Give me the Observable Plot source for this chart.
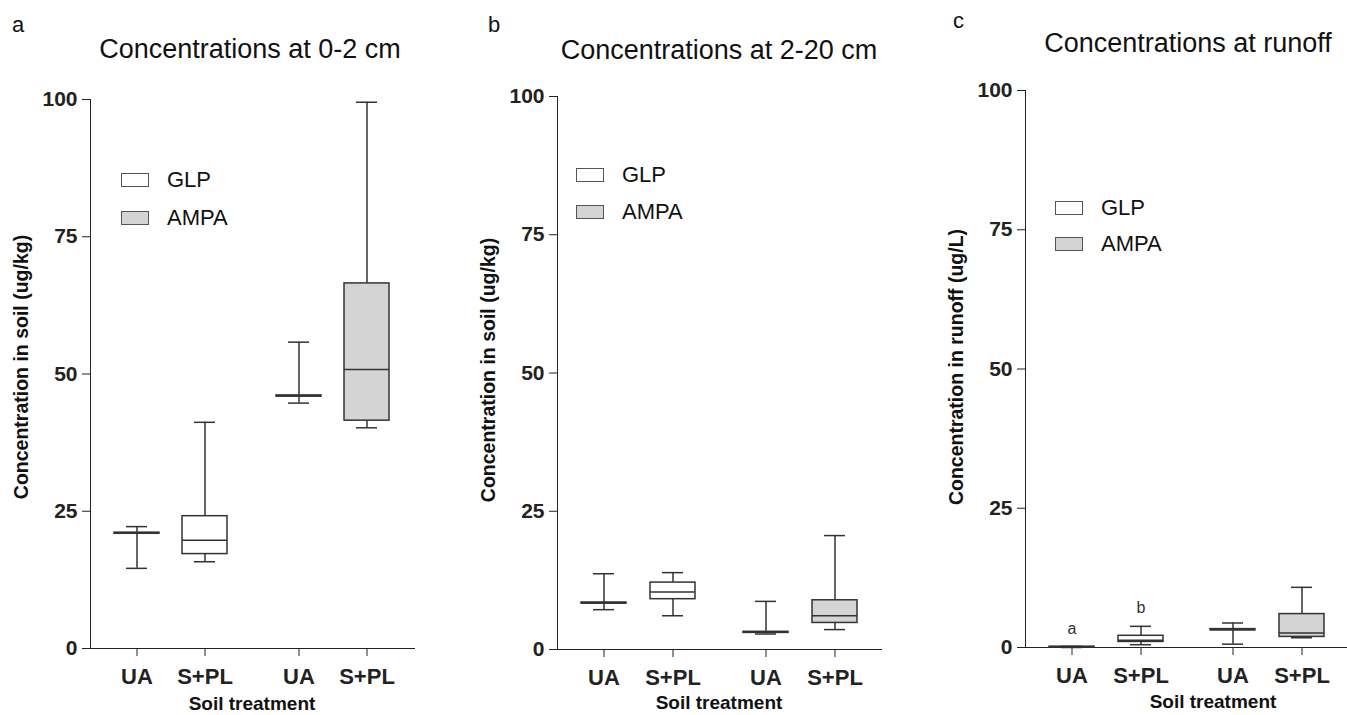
<!DOCTYPE html>
<html>
<head>
<meta charset="utf-8">
<script src="https://cdn.jsdelivr.net/npm/d3@7"></script>
<script src="https://cdn.jsdelivr.net/npm/@observablehq/plot@0.6"></script>
<style>
  body { margin: 0; background: #fff; font-family: Arial, "Liberation Sans", sans-serif; }
  #fig { position: relative; width: 1347px; height: 715px; overflow: hidden; background: #fff; }
  .panel { position: absolute; top: 0; height: 715px; }
  .abs { position: absolute; white-space: nowrap; color: #111; line-height: 1; }
  .title { font-size: 27px; transform: translateX(-50%); }
  .letter { font-size: 22px; }
  .ylab { font-size: 19.5px; font-weight: bold; transform: translate(-50%, -50%) rotate(-90deg); }
  .xlab { font-size: 19px; font-weight: bold; transform: translate(-50%, -50%); }
  .leg { position: absolute; display: flex; align-items: center; font-size: 22px; color: #111; line-height: 1; white-space: nowrap; }
  .sw { width: 26px; height: 12px; border: 1.5px solid #555; margin-right: 18px; box-sizing: content-box; }
  svg g[aria-label="x-axis tick label"] { font-size: 22px; }
  svg g[aria-label="y-axis tick label"] { font-size: 21px; }
</style>
</head>
<body>
<div id="fig"></div>
<script>
// ---------- data ----------
const compounds = ["GLP", "AMPA"];
const treatments = ["UA", "S+PL"];
const yTicks = [0, 25, 50, 75, 100];

// order of values: GLP-UA, GLP-S+PL, AMPA-UA, AMPA-S+PL
// panel a: 0-2 cm (ug/kg)
const a_min = [14.6, 15.8, 44.7, 40.2];
const a_q1  = [20.9, 17.2, 45.9, 41.5];
const a_med = [21.0, 19.7, 46.0, 50.8];
const a_q3  = [21.1, 24.1, 46.1, 66.5];
const a_max = [22.2, 41.2, 55.8, 99.5];

// panel b: 2-20 cm (ug/kg)
const b_min = [7.2, 6.1, 2.8, 3.6];
const b_q1  = [8.3, 9.1, 3.0, 4.8];
const b_med = [8.4, 10.4, 3.1, 6.1];
const b_q3  = [8.5, 12.1, 3.2, 8.9];
const b_max = [13.7, 13.9, 8.7, 20.6];

// panel c: runoff (ug/L)
const c_min = [0.0, 0.5, 0.6, 1.75];
const c_q1  = [0.05, 1.0, 3.1, 1.9];
const c_med = [0.1, 1.3, 3.2, 2.6];
const c_q3  = [0.15, 2.1, 3.3, 6.0];
const c_max = [0.2, 3.8, 4.4, 10.8];
const c_letters = ["a", "b", "", ""];

const titles = ["Concentrations at 0-2 cm", "Concentrations at 2-20 cm", "Concentrations at runoff"];
const panelLetters = ["a", "b", "c"];
const yLabels = ["Concentration in soil (ug/kg)", "Concentration in soil (ug/kg)", "Concentration in runoff (ug/L)"];
const xLabel = "Soil treatment";

// ---------- build ----------
function rows(mn, q1, md, q3, mx, lab) {
  return mn.map((_, i) => ({
    compound: compounds[Math.floor(i / 2)],
    treatment: treatments[i % 2],
    min: mn[i], q1: q1[i], med: md[i], q3: q3[i], max: mx[i],
    lab: lab ? lab[i] : ""
  }));
}

const STROKE = "#333";

function panelPlot({data, width, mL, mR, mT, mB, pi, po}) {
  const common = {fx: "compound", x: "treatment"};
  return Plot.plot({
    width, height: 715,
    marginLeft: mL, marginRight: mR, marginTop: mT, marginBottom: mB,
    style: {fontFamily: "Arial, 'Liberation Sans', sans-serif", fontSize: "21px", fontWeight: "bold", color: "#222", background: "transparent", overflow: "visible"},
    fx: {domain: compounds, padding: 0, axis: null, label: null},
    x: {domain: treatments, paddingInner: pi, paddingOuter: po, label: null, tickSize: 8, tickPadding: 12, line: true},
    y: {domain: [0, 100], ticks: yTicks, tickSize: 8, tickPadding: 5, label: null, line: true},
    color: {domain: compounds, range: ["#ffffff", "#d4d4d4"]},
    marks: [
      Plot.ruleX(data, {...common, y1: "q3", y2: "max", stroke: STROKE, strokeWidth: 1.5}),
      Plot.ruleX(data, {...common, y1: "min", y2: "q1", stroke: STROKE, strokeWidth: 1.5}),
      Plot.tickY(data, {...common, y: "max", insetLeft: 12, insetRight: 12, stroke: STROKE, strokeWidth: 1.5}),
      Plot.tickY(data, {...common, y: "min", insetLeft: 12, insetRight: 12, stroke: STROKE, strokeWidth: 1.5}),
      Plot.barY(data, {...common, y1: "q1", y2: "q3", fill: "compound", stroke: STROKE, strokeWidth: 1.5}),
      Plot.tickY(data, {...common, y: "med", stroke: STROKE, strokeWidth: 1.5}),
      Plot.text(data, {...common, y: "max", text: "lab", dy: -18, fontSize: 16, fontWeight: "normal", fill: "#333"})
    ]
  });
}

const panels = [
  {left: 0, data: rows(a_min, a_q1, a_med, a_q3, a_max), width: 449, mL: 90, mR: 35, mT: 99, mB: 67, pi: 0.333, po: 0.341,
   letter: [12, 14], title: [250, 36], ylab: [22, 367], xlab: [252, 703], leg: [121, 172, 210]},
  {left: 449, data: rows(b_min, b_q1, b_med, b_q3, b_max), width: 449, mL: 107, mR: 17, mT: 96, mB: 66, pi: 0.343, po: 0.332,
   letter: [488, 14], title: [719, 37], ylab: [489, 370], xlab: [719, 702], leg: [576, 167, 204]},
  {left: 898, data: rows(c_min, c_q1, c_med, c_q3, c_max, c_letters), width: 449, mL: 127, mR: 0, mT: 90, mB: 68, pi: 0.353, po: 0.335,
   letter: [953, 10], title: [1188, 30], ylab: [957, 367], xlab: [1213, 701], leg: [1055, 200, 236]}
];

const fig = document.getElementById("fig");
panels.forEach((p, i) => {
  const div = document.createElement("div");
  div.className = "panel";
  div.style.left = p.left + "px";
  div.style.width = p.width + "px";
  div.appendChild(panelPlot(p));
  fig.appendChild(div);

  const add = (cls, text, x, y) => {
    const el = document.createElement("div");
    el.className = "abs " + cls;
    el.textContent = text;
    el.style.left = x + "px";
    el.style.top = y + "px";
    fig.appendChild(el);
    return el;
  };
  add("letter", panelLetters[i], p.letter[0], p.letter[1]);
  add("title", titles[i], p.title[0], p.title[1]);
  add("ylab", yLabels[i], p.ylab[0], p.ylab[1]);
  add("xlab", xLabel, p.xlab[0], p.xlab[1]);

  compounds.forEach((c, j) => {
    const row = document.createElement("div");
    row.className = "leg";
    row.style.left = p.leg[0] + "px";
    row.style.top = (p.leg[1 + j] - 4) + "px";
    row.style.height = "23px";
    const sw = document.createElement("span");
    sw.className = "sw";
    sw.style.background = j === 0 ? "#ffffff" : "#d4d4d4";
    const t = document.createElement("span");
    t.textContent = c;
    row.appendChild(sw);
    row.appendChild(t);
    fig.appendChild(row);
  });
});
</script>
</body>
</html>
